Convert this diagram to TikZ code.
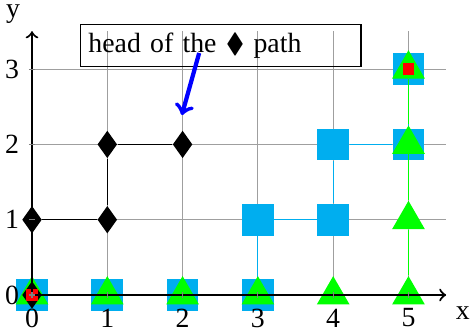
\documentclass[tikz,border=0pt]{standalone}
\usepackage{amssymb}
\usepackage{fontspec}
\setmainfont{Liberation Serif}
\usetikzlibrary{shapes.geometric,positioning}
\definecolor{sqblue}{RGB}{0,174,239}
\tikzset{sq/.style={rectangle, fill=sqblue, inner sep=0pt, minimum size=12pt},
  tri/.style={regular polygon, regular polygon sides=3, fill=green, inner sep=0pt, minimum size=14.3pt},
  dia/.style={diamond, fill=black, inner sep=0pt, minimum width=7.5pt, minimum height=10.5pt},
  dot/.style={rectangle, fill=red, inner sep=0pt, minimum size=4.5pt}}

\begin{document}
\begin{tikzpicture}[ax/.style={thick,->}, font=\fontsize{10.5}{12.6}\selectfont]
    \useasboundingbox (-0.425,-0.465) rectangle (5.817,3.918);
    \draw[gray!75] (0,0) grid (5.5,3.5);

    % square path
    \foreach \x/\y [count=\i] in {0/0,1/0,2/0,3/0,3/1,4/1,4/2,5/2,5/3}
        \node[sq] (s\i) at (\x,\y) {};
    \draw[sqblue] (s1) -- (s2) -- (s3) -- (s4) -- (s5) -- (s6) -- (s7) -- (s8) -- (s9);

    % triangle path
    \foreach \x/\y [count=\i] in {0/0,1/0,2/0,3/0,4/0,5/0,5/1,5/2,5/3}
        \node[tri] (t\i) at (\x,\y) {};
    \draw[green] (t1) -- (t2) -- (t3) -- (t4) -- (t5) -- (t6) -- (t7) -- (t8) -- (t9);

    % diamond path
    \foreach \x/\y [count=\i] in {0/0,0/1,1/1,1/2,2/2}
        \node[dia] (d\i) at (\x,\y) {};
    \draw (d1) -- (d2) -- (d3) -- (d4) -- (d5);

    \node[dot] (r1) at (0,0) {};
    \node[dot] (r2) at (5,3) {};

    % axes
    \coordinate (O) at (0,0);
    \coordinate (xend) at (5.5,0);
    \coordinate (yend) at (0,3.5);
    \draw[ax] (O) -- (xend);
    \draw[ax] (O) -- (yend);
    \node (xlab) at (5.72,-0.24) {x};
    \node[inner sep=0pt] (ylab) at (-0.25,3.73) {y};

    \foreach \x in {0,...,5}{
        \draw[gray] (\x,-0.04) -- (\x,0.04);
        \node (xt\x) at (\x,-0.305) {\x};
    }
    \foreach \y in {0,...,3}{
        \draw[gray] (-0.04,\y) -- (0.04,\y);
        \node (yt\y) at (-0.265,\y) {\y};
    }

    \node[draw, text width=100pt, inner sep=3pt, align=left] (head) at (2.507,3.313) {head of the $\blacklozenge$ path};
    \coordinate (tail) at (2.22,3.214);
    \coordinate (tip) at (1.99,2.39);
    \draw[blue, line width=1.6pt, ->] (tail) -- (tip);
\end{tikzpicture}
\end{document}
